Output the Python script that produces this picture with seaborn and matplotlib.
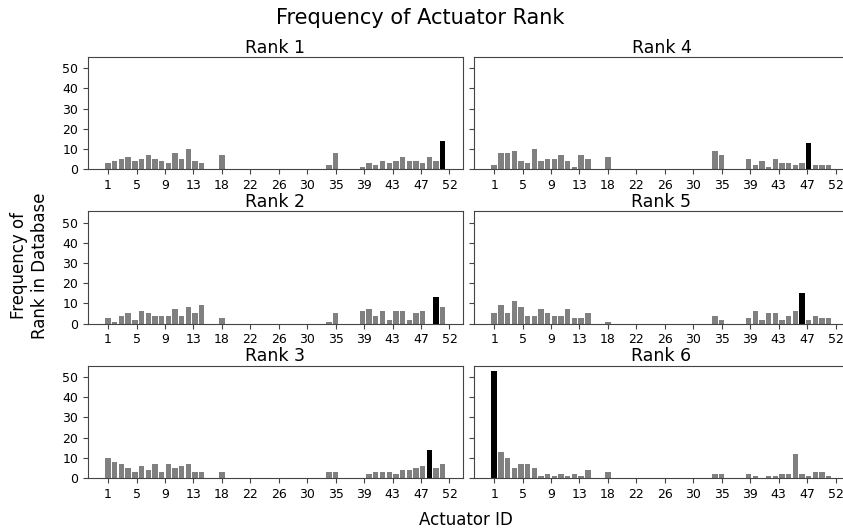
import numpy as np
import matplotlib
matplotlib.use("Agg")
import matplotlib.pyplot as plt
import seaborn as sns

# actuator ids and how often each one got a given rank
actuator_ids = list(range(1, 53))

rank_1 = [3, 4, 5, 6, 4, 5, 7, 5, 4, 3, 8, 5, 10, 4, 3, 0, 0, 7,
          0, 0, 0, 0, 0, 0, 0, 0, 0, 0, 0, 0, 0, 0, 0, 2, 8, 0, 0, 0,
          1, 3, 2, 4, 3, 4, 6, 4, 4, 3, 6, 4, 14, 0]
rank_2 = [3, 1, 4, 5, 2, 6, 5, 4, 4, 4, 7, 4, 8, 5, 9, 0, 0, 3,
          0, 0, 0, 0, 0, 0, 0, 0, 0, 0, 0, 0, 0, 0, 0, 1, 5, 0, 0, 0,
          6, 7, 4, 6, 2, 6, 6, 2, 5, 6, 0, 13, 8, 0]
rank_3 = [10, 8, 7, 5, 3, 6, 4, 7, 3, 7, 5, 6, 7, 3, 3, 0, 0, 3,
          0, 0, 0, 0, 0, 0, 0, 0, 0, 0, 0, 0, 0, 0, 0, 3, 3, 0, 0, 0,
          0, 2, 3, 3, 3, 2, 4, 4, 5, 6, 14, 5, 7, 0]
rank_4 = [2, 8, 8, 9, 4, 3, 10, 4, 5, 5, 7, 4, 1, 7, 5, 0, 0, 6,
          0, 0, 0, 0, 0, 0, 0, 0, 0, 0, 0, 0, 0, 0, 0, 9, 7, 0, 0, 0,
          5, 2, 4, 1, 5, 3, 3, 2, 3, 13, 2, 2, 2, 0]
rank_5 = [5, 9, 5, 11, 8, 4, 4, 7, 5, 4, 4, 7, 3, 3, 5, 0, 0, 1,
          0, 0, 0, 0, 0, 0, 0, 0, 0, 0, 0, 0, 0, 0, 0, 4, 2, 0, 0, 0,
          3, 6, 2, 5, 5, 2, 4, 6, 15, 2, 4, 3, 3, 0]
rank_6 = [53, 13, 10, 5, 7, 7, 5, 1, 2, 1, 2, 1, 2, 1, 4, 0, 0, 3,
          0, 0, 0, 0, 0, 0, 0, 0, 0, 0, 0, 0, 0, 0, 0, 2, 2, 0, 0, 0,
          2, 1, 0, 1, 1, 2, 2, 12, 2, 1, 3, 3, 1, 0]

rank_names = ["Rank 1", "Rank 4", "Rank 2", "Rank 5", "Rank 3", "Rank 6"]
rank_counts = [rank_1, rank_4, rank_2, rank_5, rank_3, rank_6]

fig, axes = plt.subplots(3, 2, figsize=(8.43, 5.31), dpi=100, sharey=True)
fig.subplots_adjust(left=0.1044, right=1.007, top=0.8932, bottom=0.0998,
                    wspace=0.03, hspace=0.373)

tick_pos = np.linspace(1, 52, 13)

for ax, name, counts in zip(axes.flat, rank_names, rank_counts):
    sns.barplot(x=actuator_ids, y=counts, native_scale=True, color="grey",
                saturation=1, width=0.8, ax=ax)
    # most frequent actuator in black
    top = int(np.argmax(counts))
    ax.patches[top].set_facecolor("black")
    ax.set_title(name, fontsize=12.5, pad=3)
    ax.set_xlim(-2, 54)
    ax.set_xticks(tick_pos)
    ax.set_xticklabels([str(int(t)) for t in tick_pos])
    ax.tick_params(labelsize=9, color="#444444")
    ax.set_yticks([0, 10, 20, 30, 40, 50])
    for sp in ax.spines.values():
        sp.set_color("#444444")
    ax.set_xlabel("")
    ax.set_ylabel("")

axes[0, 0].set_ylim(0, 55.65)

fig.suptitle("Frequency of Actuator Rank", fontsize=15, x=0.499, y=0.985)
fig.text(0.553, 0.021, "Actuator ID", fontsize=12, ha="center", va="center")
fig.text(0.035, 0.5, "Frequency of\nRank in Database", fontsize=12,
         ha="center", va="center", rotation=90)

plt.savefig("out.png", dpi=100)
